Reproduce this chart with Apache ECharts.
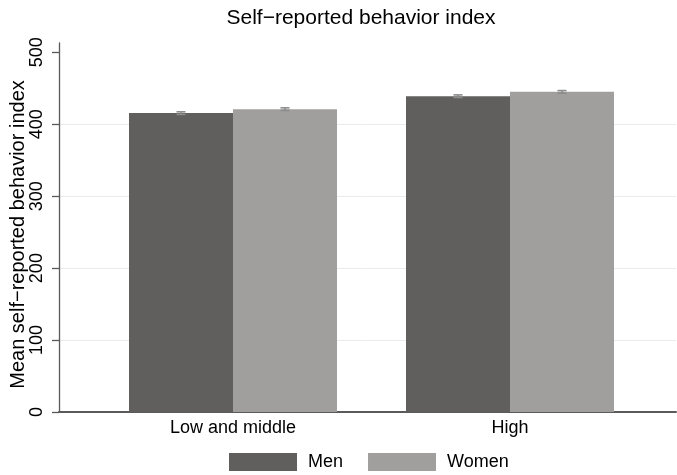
<!DOCTYPE html>
<html><head><meta charset="utf-8">
<script src="https://cdn.jsdelivr.net/npm/echarts@6/dist/echarts.min.js"></script>
<style>html,body{margin:0;padding:0;background:#fff}#c{width:677px;height:475px}</style>
</head><body><div id="c"></div>
<script>
const categories = ['Low and middle', 'High'];
const seriesNames = ['Men', 'Women'];
const menValues = [415.5, 439];
const womenValues = [421, 445];
const menCI = [[413.7, 417.3], [437.2, 440.8]];
const womenCI = [[419.2, 422.8], [443.2, 446.8]];
const yTicks = [0, 100, 200, 300, 400, 500];

const FONT = '"Liberation Sans", Arial, Helvetica, sans-serif';
const MEN_C = '#605f5d', WOMEN_C = '#a09f9d';
const BAR_W = 104;

const chart = echarts.init(document.getElementById('c'), null, {renderer: 'canvas'});

function errRender(ciArr, sign) {
  return function (params, api) {
    const i = api.value(0);
    const lo = api.coord([i, api.value(1)]);
    const hi = api.coord([i, api.value(2)]);
    const x = lo[0] + sign * BAR_W / 2;
    const cw = 4.5;
    const st = {stroke: '#8c8c8c', lineWidth: 1.6};
    return {type: 'group', children: [
      {type: 'line', shape: {x1: x, y1: lo[1], x2: x, y2: hi[1]}, style: st},
      {type: 'line', shape: {x1: x - cw, y1: lo[1], x2: x + cw, y2: lo[1]}, style: st},
      {type: 'line', shape: {x1: x - cw, y1: hi[1], x2: x + cw, y2: hi[1]}, style: st}
    ]};
  };
}

const yMaxFrame = 500 * (412 - 43) / (412 - 52.3);

chart.setOption({
  animation: false,
  title: {text: 'Self\u2212reported behavior index', left: 356, top: 3, textAlign: 'center',
    textStyle: {fontFamily: FONT, fontSize: 21, fontWeight: 'normal', color: '#000'}},
  legend: {data: seriesNames, left: 229, top: 453, padding: 0, itemWidth: 68, itemHeight: 18, itemGap: 25,
    icon: 'rect', textStyle: {fontFamily: FONT, fontSize: 18, color: '#000', padding: [0, 0, 0, 6]}},
  grid: [
    {left: 59, right: 1, top: 43, bottom: 63, containLabel: false, outerBoundsMode: 'none'},
    {left: 94.5, right: 28.5, top: 43, bottom: 63, containLabel: false, outerBoundsMode: 'none'}
  ],
  xAxis: [
    {gridIndex: 0, type: 'value', min: 0, max: 1, axisLabel: {show: false}, axisTick: {show: false},
      splitLine: {show: false}, axisLine: {lineStyle: {color: '#5a5a5a', width: 2}}},
    {gridIndex: 1, type: 'category', data: categories, axisLine: {show: false}, axisTick: {show: false},
      axisLabel: {fontFamily: FONT, fontSize: 18, color: '#000', margin: 7}}
  ],
  yAxis: [
    {gridIndex: 0, type: 'value', min: 0, max: yMaxFrame, interval: 100,
      name: 'Mean self\u2212reported behavior index', nameLocation: 'middle', nameGap: 31,
      nameMoveOverlap: false,
      nameRotate: 90, nameTextStyle: {fontFamily: FONT, fontSize: 20, color: '#000', padding: [0, 14, 0, 0]},
      axisLine: {show: true, lineStyle: {color: '#5a5a5a', width: 1.3}},
      axisTick: {show: true, length: 7, lineStyle: {color: '#5a5a5a', width: 1.3}, customValues: yTicks},
      axisLabel: {rotate: 90, fontFamily: FONT, fontSize: 18, color: '#000', margin: 13, customValues: yTicks},
      splitLine: {show: true, showMinLine: false, showMaxLine: false, lineStyle: {color: '#ebebeb', width: 1}}},
    {gridIndex: 1, type: 'value', min: 0, max: yMaxFrame, show: false, splitLine: {show: false}}
  ],
  series: [
    {name: 'Men', type: 'bar', xAxisIndex: 1, yAxisIndex: 1, data: menValues, barWidth: BAR_W, barGap: '0%',
      itemStyle: {color: MEN_C}},
    {name: 'Women', type: 'bar', xAxisIndex: 1, yAxisIndex: 1, data: womenValues, barWidth: BAR_W, barGap: '0%',
      itemStyle: {color: WOMEN_C}},
    {type: 'custom', xAxisIndex: 1, yAxisIndex: 1, renderItem: errRender(menCI, -1), z: 5,
      data: menCI.map((c, i) => [i, c[0], c[1]])},
    {type: 'custom', xAxisIndex: 1, yAxisIndex: 1, renderItem: errRender(womenCI, 1), z: 5,
      data: womenCI.map((c, i) => [i, c[0], c[1]])}
  ]
});
</script></body></html>
